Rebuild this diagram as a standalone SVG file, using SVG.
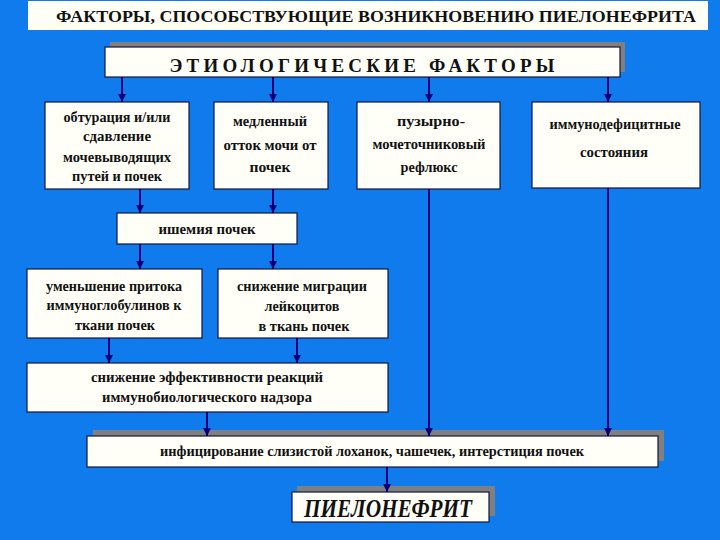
<svg xmlns="http://www.w3.org/2000/svg" width="720" height="540" viewBox="0 0 720 540">
<defs>
<marker id="ah" viewBox="0 0 10 10" refX="10" refY="5" markerWidth="8" markerHeight="8" markerUnits="userSpaceOnUse" orient="auto">
<path d="M0,0 L10,5 L0,10 z" fill="#00007a"/>
</marker>
</defs>
<style>
.box{fill:#fffff8;stroke:#14143c;stroke-width:1.2}
.shadow{fill:#808080}
text{font-family:'Liberation Serif','Times New Roman','DejaVu Serif',serif}
.t{font-weight:bold;font-size:15px;fill:#111;text-anchor:middle}
.c{stroke:#00007a;stroke-width:2;fill:none;marker-end:url(#ah)}
</style>
<rect width="720" height="540" fill="#0f7bec"/>

<g id="title">
<rect x="28" y="1" width="680" height="29" fill="#fffff8"/>
<text x="376" y="22" class="t" style="font-size:17px" textLength="640" lengthAdjust="spacingAndGlyphs">ФАКТОРЫ, СПОСОБСТВУЮЩИЕ ВОЗНИКНОВЕНИЮ ПИЕЛОНЕФРИТА</text>
</g>

<g id="etiology">
<rect class="shadow" x="110" y="42" width="515" height="30"/>
<rect class="box" x="105" y="47" width="515" height="30"/>
<text x="362" y="72" class="t" style="font-size:19px" textLength="385" lengthAdjust="spacing">ЭТИОЛОГИЧЕСКИЕ   ФАКТОРЫ</text>
</g>

<g id="obturation">
<rect class="box" x="45" y="102" width="144" height="87"/>
<text class="t" x="117" y="122" textLength="107" lengthAdjust="spacingAndGlyphs">обтурация и/или</text>
<text class="t" x="117" y="141" textLength="68" lengthAdjust="spacingAndGlyphs">сдавление</text>
<text class="t" x="117" y="162" textLength="108" lengthAdjust="spacingAndGlyphs">мочевыводящих</text>
<text class="t" x="117" y="181" textLength="90" lengthAdjust="spacingAndGlyphs">путей и почек</text>
</g>

<g id="slow-outflow">
<rect class="box" x="214" y="102" width="114" height="87"/>
<text class="t" x="270" y="126" textLength="74" lengthAdjust="spacingAndGlyphs">медленный</text>
<text class="t" x="270" y="150" textLength="93" lengthAdjust="spacingAndGlyphs">отток мочи от</text>
<text class="t" x="270" y="172" textLength="41" lengthAdjust="spacingAndGlyphs">почек</text>
</g>

<g id="reflux">
<rect class="box" x="357" y="102" width="143" height="87"/>
<text class="t" x="431" y="126" textLength="68" lengthAdjust="spacingAndGlyphs">пузырно-</text>
<text class="t" x="429" y="149" textLength="113" lengthAdjust="spacingAndGlyphs">мочеточниковый</text>
<text class="t" x="429" y="172" textLength="57" lengthAdjust="spacingAndGlyphs">рефлюкс</text>
</g>

<g id="immunodeficiency">
<rect class="box" x="532" y="102" width="168" height="86"/>
<text class="t" x="615" y="129" textLength="131" lengthAdjust="spacingAndGlyphs">иммунодефицитные</text>
<text class="t" x="614" y="157" textLength="68" lengthAdjust="spacingAndGlyphs">состояния</text>
</g>

<g id="ischemia">
<rect class="box" x="117" y="213" width="180" height="31"/>
<text class="t" x="207" y="234" textLength="97" lengthAdjust="spacingAndGlyphs">ишемия  почек</text>
</g>

<g id="immunoglobulin">
<rect class="box" x="27" y="269" width="175" height="69"/>
<text class="t" x="114" y="291" textLength="136" lengthAdjust="spacingAndGlyphs">уменьшение притока</text>
<text class="t" x="114" y="310" textLength="135" lengthAdjust="spacingAndGlyphs">иммуноглобулинов к</text>
<text class="t" x="115" y="330" textLength="80" lengthAdjust="spacingAndGlyphs">ткани почек</text>
</g>

<g id="leukocytes">
<rect class="box" x="218" y="269" width="170" height="69"/>
<text class="t" x="302" y="291" textLength="130" lengthAdjust="spacingAndGlyphs">снижение миграции</text>
<text class="t" x="302" y="311" textLength="75" lengthAdjust="spacingAndGlyphs">лейкоцитов</text>
<text class="t" x="304" y="331" textLength="91" lengthAdjust="spacingAndGlyphs">в ткань почек</text>
</g>

<g id="surveillance">
<rect class="box" x="27" y="363" width="361" height="49"/>
<text class="t" x="207" y="382" textLength="232" lengthAdjust="spacingAndGlyphs">снижение  эффективности  реакций</text>
<text class="t" x="207" y="402" textLength="210" lengthAdjust="spacingAndGlyphs">иммунобиологического  надзора</text>
</g>

<g id="infection">
<rect class="shadow" x="93" y="430" width="571" height="31"/>
<rect class="box" x="87" y="436" width="571" height="31"/>
<text class="t" x="372" y="456" style="font-size:14px" textLength="424" lengthAdjust="spacingAndGlyphs">инфицирование слизистой лоханок, чашечек, интерстиция почек</text>
</g>

<g id="pyelonephritis">
<rect class="shadow" x="297" y="486" width="198" height="30"/>
<rect class="box" x="292" y="492" width="197" height="30"/>
<text class="t" x="388" y="517" style="font-size:26px;font-style:italic" textLength="168" lengthAdjust="spacingAndGlyphs">ПИЕЛОНЕФРИТ</text>
</g>

<g id="connectors">
<line class="c" x1="122" y1="77" x2="122" y2="102"/>
<line class="c" x1="273" y1="77" x2="273" y2="102"/>
<line class="c" x1="429" y1="77" x2="429" y2="102"/>
<line class="c" x1="608" y1="77" x2="608" y2="102"/>
<line class="c" x1="140" y1="189" x2="140" y2="213"/>
<line class="c" x1="273" y1="189" x2="273" y2="213"/>
<line class="c" x1="140" y1="244" x2="140" y2="269"/>
<line class="c" x1="273" y1="244" x2="273" y2="269"/>
<line class="c" x1="109" y1="338" x2="109" y2="363"/>
<line class="c" x1="297" y1="338" x2="297" y2="363"/>
<line class="c" x1="207" y1="412" x2="207" y2="436"/>
<line class="c" x1="429" y1="189" x2="429" y2="436"/>
<line class="c" x1="608" y1="188" x2="608" y2="436"/>
<line class="c" x1="387" y1="467" x2="387" y2="492"/>
</g>
</svg>
